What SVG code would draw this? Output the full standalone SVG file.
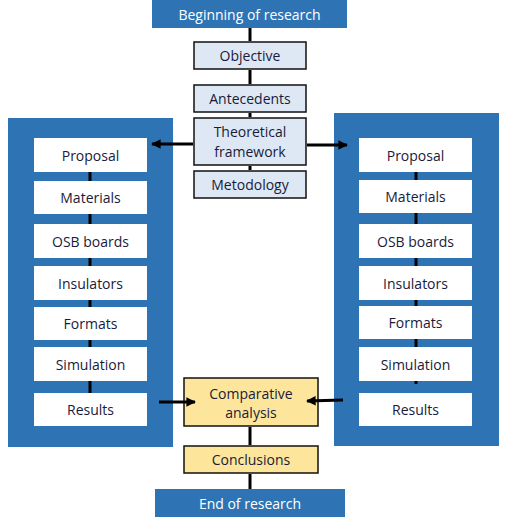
<svg xmlns="http://www.w3.org/2000/svg" width="506" height="524" viewBox="0 0 506 524">
<defs>
<style>
.t{font-family:"Open Sans","Liberation Sans",sans-serif;font-size:14px;fill:#1a1a3a;text-anchor:middle;dominant-baseline:central}
.w{font-family:"Open Sans","Liberation Sans",sans-serif;font-size:14px;fill:#fff;text-anchor:middle;dominant-baseline:central}
.bar{fill:#2e74b5}
.lb{fill:#dde8f4;stroke:#111;stroke-width:1.5}
.yb{fill:#fde69b;stroke:#111;stroke-width:1.5}
.wb{fill:#fff}
.ln{stroke:#000;stroke-width:3;fill:none}
.ar{stroke:#000;stroke-width:3;fill:none}
</style>
<marker id="ah" viewBox="0 0 10 10" refX="9" refY="5" markerWidth="3.2" markerHeight="3.2" orient="auto" markerUnits="strokeWidth">
<path d="M0,0 L10,5 L0,10 z" fill="#000"/>
</marker>
</defs>
<g id="panel-left"><rect class="bar" x="8" y="118" width="165" height="329"/></g>
<g id="panel-right"><rect class="bar" x="334" y="113" width="165" height="333"/></g>
<g id="begin"><rect class="bar" x="152" y="0" width="195" height="28"/><text class="w" x="249.5" y="14">Beginning of research</text></g>
<g id="objective"><rect class="lb" x="194" y="42" width="112" height="27"/><text class="t" x="250" y="55.5">Objective</text></g>
<g id="antecedents"><rect class="lb" x="194" y="85" width="112" height="27"/><text class="t" x="250" y="98.5">Antecedents</text></g>
<g id="theoretical"><rect class="lb" x="194" y="118" width="112" height="47"/><text class="t" x="250" y="131.5">Theoretical</text><text class="t" x="250" y="151.5">framework</text></g>
<g id="metodology"><rect class="lb" x="194" y="171" width="112" height="27"/><text class="t" x="250" y="184.5">Metodology</text></g>
<g id="l-proposal"><rect class="wb" x="34" y="138" width="113" height="34"/><text class="t" x="90.5" y="155">Proposal</text></g>
<g id="l-materials"><rect class="wb" x="34" y="181" width="113" height="33"/><text class="t" x="90.5" y="197.5">Materials</text></g>
<g id="l-osb"><rect class="wb" x="34" y="224" width="113" height="34"/><text class="t" x="90.5" y="241">OSB boards</text></g>
<g id="l-insulators"><rect class="wb" x="34" y="266" width="113" height="34"/><text class="t" x="90.5" y="283">Insulators</text></g>
<g id="l-formats"><rect class="wb" x="34" y="307" width="113" height="33"/><text class="t" x="90.5" y="323.5">Formats</text></g>
<g id="l-simulation"><rect class="wb" x="34" y="347" width="113" height="34"/><text class="t" x="90.5" y="364">Simulation</text></g>
<g id="l-results"><rect class="wb" x="34" y="393" width="113" height="33"/><text class="t" x="90.5" y="409.5">Results</text></g>
<g id="r-proposal"><rect class="wb" x="359" y="138" width="113" height="34"/><text class="t" x="415.5" y="155">Proposal</text></g>
<g id="r-materials"><rect class="wb" x="359" y="180" width="113" height="33"/><text class="t" x="415.5" y="196.5">Materials</text></g>
<g id="r-osb"><rect class="wb" x="359" y="224" width="113" height="34"/><text class="t" x="415.5" y="241">OSB boards</text></g>
<g id="r-insulators"><rect class="wb" x="359" y="266" width="113" height="34"/><text class="t" x="415.5" y="283">Insulators</text></g>
<g id="r-formats"><rect class="wb" x="359" y="306" width="113" height="33"/><text class="t" x="415.5" y="322.5">Formats</text></g>
<g id="r-simulation"><rect class="wb" x="359" y="347" width="113" height="34"/><text class="t" x="415.5" y="364">Simulation</text></g>
<g id="r-results"><rect class="wb" x="359" y="393" width="113" height="33"/><text class="t" x="415.5" y="409.5">Results</text></g>
<g id="comparative"><rect class="yb" x="184" y="378" width="134" height="48"/><text class="t" x="251" y="393">Comparative</text><text class="t" x="251" y="412">analysis</text></g>
<g id="conclusions"><rect class="yb" x="184" y="446" width="134" height="27"/><text class="t" x="251" y="459.5">Conclusions</text></g>
<g id="end"><rect class="bar" x="155" y="489" width="190" height="28"/><text class="w" x="250" y="503">End of research</text></g>
<g id="connectors">
<line class="ln" x1="250" y1="28" x2="250" y2="41"/>
<line class="ln" x1="250" y1="70" x2="250" y2="84"/>
<line class="ln" x1="250" y1="113" x2="250" y2="117"/>
<line class="ln" x1="250" y1="166" x2="250" y2="170"/>
<line class="ln" x1="90" y1="172" x2="90" y2="181"/>
<line class="ln" x1="90" y1="214" x2="90" y2="224"/>
<line class="ln" x1="90" y1="258" x2="90" y2="266"/>
<line class="ln" x1="90" y1="300" x2="90" y2="307"/>
<line class="ln" x1="90" y1="340" x2="90" y2="347"/>
<line class="ln" x1="90" y1="381" x2="90" y2="393"/>
<line class="ln" x1="416" y1="172" x2="416" y2="180"/>
<line class="ln" x1="416" y1="213" x2="416" y2="224"/>
<line class="ln" x1="416" y1="258" x2="416" y2="266"/>
<line class="ln" x1="416" y1="300" x2="416" y2="306"/>
<line class="ln" x1="416" y1="339" x2="416" y2="347"/>
<line class="ln" x1="416" y1="381" x2="416" y2="384"/>
<line class="ln" x1="250" y1="427" x2="250" y2="445"/>
<line class="ln" x1="250" y1="474" x2="250" y2="489"/>
<line class="ar" x1="193" y1="144" x2="152" y2="144" marker-end="url(#ah)"/>
<line class="ar" x1="307" y1="145" x2="347" y2="145" marker-end="url(#ah)"/>
<line class="ar" x1="159" y1="402" x2="195" y2="402" marker-end="url(#ah)"/>
<line class="ar" x1="343" y1="400" x2="307" y2="401" marker-end="url(#ah)"/>
</g>
</svg>
